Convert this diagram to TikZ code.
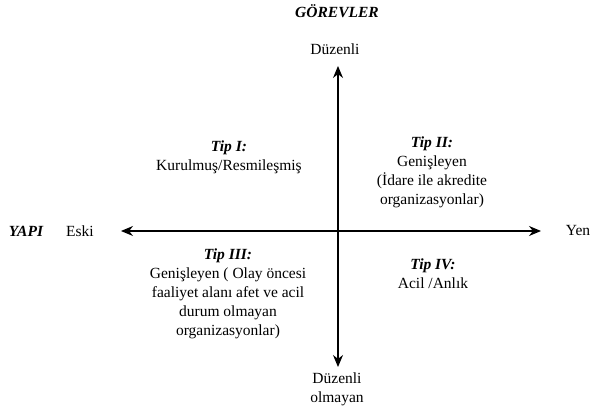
\documentclass[tikz,border=0pt]{standalone}
\usepackage{fontspec}
\setmainfont{Liberation Serif}
\usetikzlibrary{arrows.meta}

\begin{document}
\begin{tikzpicture}[x=1pt, y=-1pt,
    txt/.style={font=\fontsize{15.5}{19}\selectfont, align=center, inner sep=0pt},
    heading/.style={font=\fontsize{15.5}{19}\selectfont\bfseries\itshape, inner sep=0pt},
    axis/.style={{Stealth[length=12pt,width=10pt]}-{Stealth[length=12pt,width=10pt]}, line width=1.1pt}]
    \useasboundingbox (0,0) rectangle (590,409);

    % axis end points
    \coordinate (top) at (338,66);
    \coordinate (bottom) at (338,367);
    \coordinate (left) at (121,231);
    \coordinate (right) at (541,231);

    \draw[axis] (left) -- (right);
    \draw[axis] (top) -- (bottom);

    % axis titles
    \node[heading] (gorevler) at (337,11) {GÖREVLER};
    \node[heading] (yapi) at (26,231) {YAPI};

    \node[txt] (duzenli) at (335,49) {Düzenli};
    \node[txt] (duzensiz) at (337,389) {Düzenli\\olmayan};
    \node[txt] (eski) at (80,231) {Eski};
    \node[txt] (yeni) at (578,231) {Yen};

    % quadrants
    \node[txt] (tip1) at (229,157) {\textbf{\textit{Tip I:}}\\Kurulmuş/Resmileşmiş};
    \node[txt] (tip2) at (432,172) {\textbf{\textit{Tip II:}}\\Genişleyen\\(İdare ile akredite\\organizasyonlar)};
    \node[txt] (tip3) at (228,294) {\textbf{\textit{Tip III:}}\\Genişleyen ( Olay öncesi\\faaliyet alanı afet ve acil\\durum olmayan\\organizasyonlar)};
    \node[txt] (tip4) at (433,274) {\textbf{\textit{Tip IV:}}\\Acil /Anlık};
\end{tikzpicture}
\end{document}
